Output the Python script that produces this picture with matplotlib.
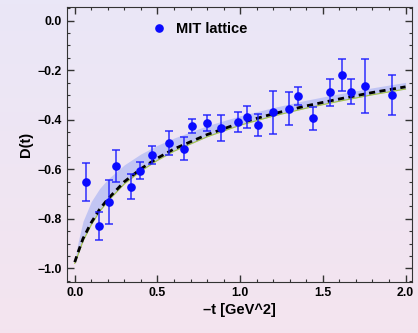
import numpy as np
import matplotlib
matplotlib.use("Agg")
import matplotlib.pyplot as plt
from matplotlib.ticker import MultipleLocator

plt.rcParams["font.family"] = ["Liberation Sans", "DejaVu Sans"]
plt.rcParams["font.weight"] = "bold"

# lattice points, -t [GeV^2] and D(t)
t_lat = [0.066, 0.147, 0.207, 0.252, 0.340, 0.395, 0.467, 0.568, 0.659, 0.707,
         0.800, 0.885, 0.987, 1.042, 1.106, 1.199, 1.298, 1.352, 1.439, 1.544,
         1.614, 1.673, 1.752, 1.918]
d_lat = [-0.652, -0.828, -0.732, -0.587, -0.671, -0.606, -0.542, -0.493, -0.517, -0.425,
         -0.413, -0.432, -0.408, -0.390, -0.422, -0.370, -0.355, -0.305, -0.394, -0.289,
         -0.219, -0.287, -0.262, -0.299]
d_err = [0.078, 0.057, 0.089, 0.064, 0.050, 0.034, 0.037, 0.048, 0.046, 0.027,
         0.034, 0.053, 0.040, 0.045, 0.045, 0.087, 0.068, 0.036, 0.047, 0.054,
         0.065, 0.050, 0.109, 0.080]

# curves
t_curve = [0.0, 0.02, 0.05, 0.1, 0.15, 0.2, 0.3, 0.4, 0.5, 0.6, 0.8, 1.0,
           1.2, 1.4, 1.6, 1.8, 2.0]
d_dash = [-0.975, -0.935, -0.88, -0.815, -0.762, -0.72, -0.65, -0.598, -0.555,
          -0.518, -0.46, -0.413, -0.376, -0.344, -0.316, -0.29, -0.267]
d_green = [-0.98, -0.945, -0.89, -0.824, -0.771, -0.729, -0.659, -0.607, -0.564,
           -0.527, -0.469, -0.422, -0.385, -0.353, -0.325, -0.299, -0.276]
band_hi = [-0.97, -0.895, -0.81, -0.73, -0.678, -0.64, -0.582, -0.538, -0.503,
           -0.474, -0.424, -0.384, -0.351, -0.321, -0.295, -0.271, -0.249]

fig = plt.figure(figsize=(4.18, 3.33), dpi=100)

# soft lavender-to-pink background
bg = fig.add_axes([0, 0, 1, 1], zorder=-10)
grad = np.linspace(0, 1, 256).reshape(-1, 1)
top = np.array([0.918, 0.906, 0.969])
bot = np.array([0.957, 0.894, 0.937])
img = top[None, None, :] * (1 - grad[:, :, None]) + bot[None, None, :] * grad[:, :, None]
bg.imshow(img, aspect="auto", extent=[0, 1, 0, 1])
bg.axis("off")

ax = fig.add_axes([0.161, 0.154, 0.825, 0.824])
ax.set_facecolor("none")

ax.fill_between(t_curve, d_green, band_hi, color="#aab4f4", alpha=0.65, lw=0, zorder=1)
ax.plot(t_curve, d_green, color="#a4c640", lw=0.8, zorder=2)
ax.plot(t_curve, d_dash, color="black", lw=2.0, ls=(0, (2.2, 1.6)), zorder=3)

ax.errorbar(t_lat, d_lat, yerr=d_err, fmt="none", ecolor="#1e1eff", elinewidth=1.2,
            capsize=3, capthick=1.2, alpha=0.85, zorder=4)
ax.plot(t_lat, d_lat, "o", color="#0a0aff", ms=5.2, zorder=5, label="MIT lattice")

ax.set_xlim(-0.045, 2.04)
ax.set_ylim(-1.054, 0.054)
ax.xaxis.set_major_locator(MultipleLocator(0.5))
ax.xaxis.set_minor_locator(MultipleLocator(0.1))
ax.yaxis.set_major_locator(MultipleLocator(0.2))
ax.yaxis.set_minor_locator(MultipleLocator(0.05))
ax.tick_params(which="both", direction="in", top=True, right=True, color="#333333",
               labelsize=8.8, pad=4)
ax.tick_params(which="major", length=5, width=1)
ax.tick_params(which="minor", length=2.5, width=0.8)
for s in ax.spines.values():
    s.set_color("#333333")

ax.set_xlabel("\u2013t [GeV^2]", fontsize=10.5, fontweight="bold", labelpad=3)
ax.set_ylabel("D(t)", fontsize=10.5, fontweight="bold", labelpad=3)

ax.legend(loc="center left", bbox_to_anchor=(0.225, 0.921), frameon=False,
          handlelength=1.0, handletextpad=0.6, borderpad=0,
          prop={"size": 10.5, "weight": "bold"})

fig.savefig("out.png", dpi=100)
